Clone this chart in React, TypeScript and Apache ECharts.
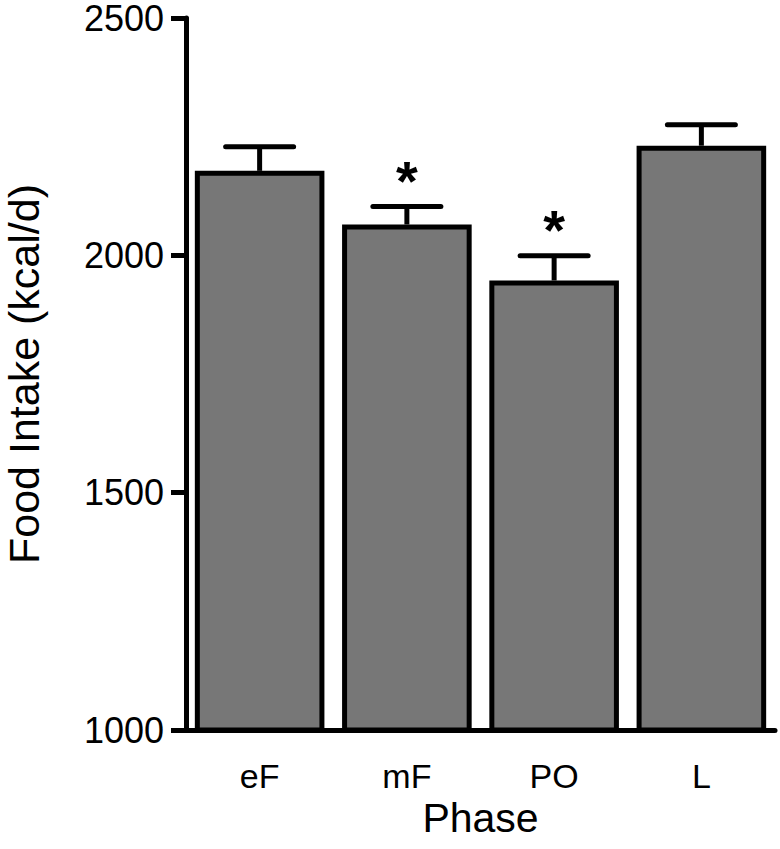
import React, { useEffect, useRef } from "react";
import * as echarts from "echarts";

const categories = ["eF", "mF", "PO", "L"];
const means = [2178, 2065, 1947, 2231];
const errors = [51, 38, 52, 44];
const marks = ["", "*", "*", ""];
const yTicks = { min: 1000, max: 2500, interval: 500 };

const FONT = "'Liberation Sans', Arial, Helvetica, sans-serif";

export default function App() {
  const ref = useRef<HTMLDivElement>(null);
  useEffect(() => {
    document.body.style.margin = "0";
    const chart = echarts.init(ref.current!, null, { renderer: "svg" });
    const errData = means.map((m, i) => [i, m, m + errors[i]]);
    chart.setOption({
      animation: false,
      backgroundColor: "#ffffff",
      grid: {
        left: 186,
        right: 5,
        top: 18,
        bottom: 119,
        containLabel: false,
        outerBoundsMode: "none",
      },
      xAxis: {
        type: "category",
        data: categories,
        axisLine: { show: true, lineStyle: { color: "#000", width: 5 } },
        axisTick: { show: false },
        axisLabel: { color: "#000", fontSize: 34, fontFamily: FONT, margin: 29 },
        name: "Phase",
        nameLocation: "middle",
        nameGap: 58,
        nameTextStyle: { color: "#000", fontSize: 41, fontFamily: FONT },
      },
      yAxis: {
        type: "value",
        min: yTicks.min,
        max: yTicks.max,
        interval: yTicks.interval,
        splitLine: { show: false },
        axisLine: { show: true, lineStyle: { color: "#000", width: 5 } },
        axisTick: { show: true, inside: false, length: 15, lineStyle: { color: "#000", width: 5 } },
        axisLabel: {
          color: "#000",
          fontSize: 36,
          fontFamily: FONT,
          margin: 22,
          formatter: (v: number) => String(v),
        },
        name: "Food Intake (kcal/d)",
        nameLocation: "middle",
        nameGap: 141,
        nameRotate: 90,
        nameTextStyle: { color: "#000", fontSize: 43, fontFamily: FONT },
      },
      series: [
        {
          type: "bar",
          data: means,
          barWidth: "88%",
          itemStyle: { color: "#777777", borderColor: "#000", borderWidth: 5 },
          z: 2,
        },
        {
          type: "custom",
          z: 3,
          data: errData,
          renderItem: (params: any, api: any) => {
            const idx = api.value(0);
            const base = api.coord([idx, api.value(1)]);
            const top = api.coord([idx, api.value(2)]);
            const half = 34;
            const children: any[] = [
              {
                type: "line",
                shape: { x1: base[0], y1: base[1], x2: top[0], y2: top[1] },
                style: { stroke: "#000", lineWidth: 5 },
              },
              {
                type: "line",
                shape: { x1: top[0] - half, y1: top[1], x2: top[0] + half, y2: top[1] },
                style: { stroke: "#000", lineWidth: 5, lineCap: "round" },
              },
            ];
            const m = marks[params.dataIndex];
            if (m) {
              children.push({
                type: "text",
                x: top[0],
                y: top[1] + 2,
                style: {
                  text: m,
                  fill: "#000",
                  font: `bold 56px ${FONT}`,
                  align: "center",
                  verticalAlign: "bottom",
                },
              });
            }
            return { type: "group", children };
          },
        },
      ],
    });
    return () => chart.dispose();
  }, []);
  return <div ref={ref} style={{ width: 780, height: 849 }} />;
}
